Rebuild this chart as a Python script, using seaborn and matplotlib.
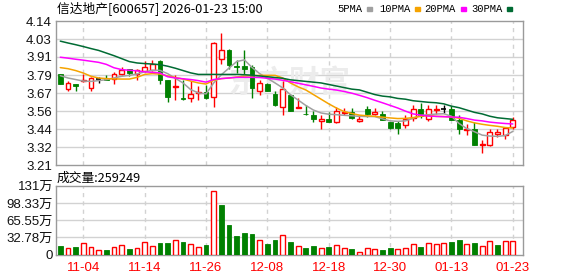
import numpy as np
import pandas as pd
import matplotlib
matplotlib.use("Agg")
import matplotlib.pyplot as plt
import seaborn as sns

# ---------------- data ----------------
dates = ["11-04", "11-14", "11-26", "12-08", "12-18", "12-30", "01-13", "01-23"]
date_idx = [3, 11, 19, 27, 35, 43, 51, 59]

opens = [3.798, 3.703, 3.733, 3.752, 3.705, 3.765, 3.772, 3.763, 3.796, 3.828,
         3.798, 3.815, 3.821, 3.884, 3.759, 3.712, 3.643, 3.645, 3.673, 3.681,
         3.647, 3.892, 3.953, 3.852, 3.849, 3.843, 3.686, 3.735, 3.669, 3.582,
         3.662, 3.578, 3.542, 3.533, 3.492, 3.509, 3.488, 3.548, 3.550, 3.492,
         3.570, 3.537, 3.537, 3.488, 3.479, 3.468, 3.511, 3.572, 3.509, 3.565,
         3.574, 3.574, 3.501, 3.434, 3.445, 3.339, 3.341, 3.410, 3.402, 3.453]
closes = [3.735, 3.737, 3.722, 3.759, 3.770, 3.765, 3.761, 3.798, 3.824, 3.802,
          3.826, 3.841, 3.864, 3.759, 3.649, 3.720, 3.636, 3.666, 3.679, 3.641,
          3.996, 3.951, 3.854, 3.845, 3.832, 3.707, 3.737, 3.690, 3.600, 3.699,
          3.561, 3.582, 3.537, 3.509, 3.505, 3.490, 3.557, 3.552, 3.511, 3.505,
          3.542, 3.550, 3.503, 3.447, 3.449, 3.507, 3.570, 3.529, 3.572, 3.572,
          3.574, 3.503, 3.445, 3.443, 3.341, 3.346, 3.425, 3.421, 3.449, 3.499]
highs = [3.800, 3.755, 3.735, 3.798, 3.781, 3.781, 3.789, 3.813, 3.841, 3.828,
         3.832, 3.880, 3.886, 3.890, 3.761, 3.793, 3.757, 3.755, 3.718, 3.729,
         4.006, 4.062, 3.959, 3.888, 3.952, 3.858, 3.759, 3.737, 3.686, 3.755,
         3.669, 3.643, 3.595, 3.561, 3.531, 3.550, 3.582, 3.580, 3.578, 3.531,
         3.589, 3.576, 3.557, 3.490, 3.492, 3.535, 3.595, 3.608, 3.600, 3.600,
         3.595, 3.589, 3.535, 3.475, 3.488, 3.374, 3.443, 3.443, 3.451, 3.520]
lows = [3.733, 3.686, 3.686, 3.748, 3.686, 3.737, 3.757, 3.735, 3.789, 3.785,
        3.759, 3.811, 3.815, 3.735, 3.617, 3.632, 3.632, 3.617, 3.632, 3.634,
        3.582, 3.862, 3.832, 3.802, 3.797, 3.643, 3.660, 3.688, 3.593, 3.535,
        3.559, 3.577, 3.536, 3.488, 3.445, 3.488, 3.481, 3.535, 3.509, 3.490,
        3.522, 3.533, 3.501, 3.445, 3.412, 3.447, 3.494, 3.514, 3.492, 3.542,
        3.544, 3.501, 3.410, 3.402, 3.340, 3.290, 3.335, 3.393, 3.376, 3.443]

# volume in 万
volumes = [16.5, 12.0, 14.6, 21.5, 14.0, 8.2, 8.9, 14.0, 17.7, 10.8,
           12.7, 23.4, 15.8, 22.0, 22.0, 27.0, 24.0, 20.0, 14.6, 18.4,
           120.3, 94.9, 56.3, 35.4, 41.8, 39.2, 27.2, 20.3, 27.8, 36.7,
           24.0, 16.4, 13.2, 17.0, 13.2, 15.0, 18.3, 12.6, 11.3, 5.7,
           12.6, 11.3, 9.5, 13.2, 11.3, 13.2, 20.8, 15.0, 22.7, 19.5,
           22.7, 23.3, 28.4, 20.8, 22.7, 16.4, 26.5, 18.9, 26.5, 25.9]
vol_up = [0, 1, 0, 1, 1, 1, 0, 1, 1, 0,
          1, 1, 1, 0, 0, 1, 0, 1, 1, 0,
          1, 0, 0, 0, 0, 0, 1, 0, 0, 1,
          0, 1, 0, 0, 1, 0, 1, 1, 0, 1,
          1, 1, 0, 0, 1, 1, 1, 0, 1, 1,
          1, 0, 0, 1, 0, 1, 1, 0, 1, 1]

ma5 = [3.787, 3.772, 3.762, 3.752, 3.750, 3.755, 3.761, 3.772, 3.783, 3.789,
       3.798, 3.812, 3.822, 3.821, 3.800, 3.770, 3.740, 3.697, 3.676, 3.669,
       3.740, 3.793, 3.836, 3.878, 3.889, 3.840, 3.800, 3.770, 3.740, 3.708,
       3.664, 3.630, 3.595, 3.565, 3.546, 3.538, 3.535, 3.531, 3.528, 3.524,
       3.523, 3.523, 3.508, 3.495, 3.492, 3.495, 3.512, 3.530, 3.535, 3.539,
       3.541, 3.525, 3.478, 3.445, 3.425, 3.403, 3.397, 3.395, 3.400, 3.427]
ma10 = [3.839, 3.832, 3.820, 3.804, 3.783, 3.772, 3.768, 3.766, 3.765, 3.765,
        3.776, 3.795, 3.800, 3.797, 3.785, 3.775, 3.765, 3.752, 3.740, 3.733,
        3.757, 3.768, 3.772, 3.778, 3.784, 3.786, 3.789, 3.789, 3.789, 3.772,
        3.740, 3.715, 3.695, 3.665, 3.635, 3.605, 3.578, 3.555, 3.543, 3.532,
        3.528, 3.524, 3.519, 3.514, 3.510, 3.511, 3.516, 3.524, 3.530, 3.524,
        3.523, 3.520, 3.512, 3.495, 3.482, 3.473, 3.466, 3.460, 3.452, 3.449]
ma20 = [3.906, 3.900, 3.893, 3.887, 3.880, 3.873, 3.860, 3.838, 3.826, 3.822,
        3.818, 3.812, 3.808, 3.805, 3.780, 3.772, 3.767, 3.762, 3.755, 3.745,
        3.762, 3.768, 3.772, 3.776, 3.776, 3.776, 3.775, 3.770, 3.765, 3.757,
        3.748, 3.738, 3.728, 3.718, 3.707, 3.700, 3.694, 3.685, 3.674, 3.660,
        3.645, 3.628, 3.612, 3.595, 3.578, 3.558, 3.540, 3.532, 3.526, 3.524,
        3.522, 3.520, 3.518, 3.510, 3.500, 3.495, 3.487, 3.482, 3.478, 3.475]
ma30 = [4.010, 3.998, 3.987, 3.975, 3.962, 3.950, 3.933, 3.916, 3.897, 3.878,
        3.869, 3.865, 3.862, 3.858, 3.848, 3.835, 3.820, 3.805, 3.795, 3.795,
        3.795, 3.795, 3.795, 3.795, 3.793, 3.790, 3.785, 3.780, 3.775, 3.770,
        3.760, 3.755, 3.750, 3.745, 3.740, 3.730, 3.720, 3.710, 3.700, 3.695,
        3.680, 3.665, 3.655, 3.650, 3.640, 3.635, 3.625, 3.620, 3.615, 3.612,
        3.605, 3.590, 3.580, 3.565, 3.550, 3.540, 3.525, 3.515, 3.510, 3.505]

price_ticks = [3.21, 3.32625, 3.4425, 3.55875, 3.675, 3.79125, 3.9075, 4.02375, 4.14]
price_labels = ["3.21", "3.32", "3.44", "3.56", "3.67", "3.79", "3.91", "4.03", "4.14"]
vol_ticks = [0, 32.775, 65.55, 98.325, 131.1]
vol_labels = ["0", "32.78万", "65.55万", "98.33万", "131万"]

title = "信达地产[600657] 2026-01-23 15:00"
vol_title = "成交量:259249"
ma_names = ["5PMA", "10PMA", "20PMA", "30PMA"]

# ---------------- style ----------------
sns.set_style("white")
plt.rcParams["font.family"] = ["Liberation Sans", "Noto Sans CJK SC", "DejaVu Sans"]

RED = "#ff0000"
GREEN = "#008000"
MA_COLORS = ["#a0a0a0", "#f5a300", "#ff00ff", "#006b33"]
GRID = "#d2d2d2"
SPINE = "#9a9a9a"

W, H = 578, 276
fig = plt.figure(figsize=(W / 100, H / 100), dpi=100)

left, right = 56, 523
axp = fig.add_axes([left / W, 1 - 165 / H, (right - left) / W, 144 / H])
axv = fig.add_axes([left / W, 1 - 254.7 / H, (right - left) / W, 69 / H])

n = len(closes)
idx = np.arange(n)
xlim = (-0.56, 60.33)
bw = 0.64

df = pd.DataFrame({"i": idx, "o": opens, "c": closes, "h": highs, "l": lows,
                   "v": volumes, "up": vol_up,
                   "ma5": ma5, "ma10": ma10, "ma20": ma20, "ma30": ma30})

# ---- price panel ----
axp.set_xlim(*xlim)
axp.set_ylim(3.21, 4.14)
for t in price_ticks[1:-1]:
    axp.axhline(t, color=GRID, lw=1, zorder=0)
for d in date_idx:
    axp.axvline(d, color=GRID, lw=1, ls=(0, (3, 3)), zorder=0)

axp.text(0.5, 0.57, "东方财富", transform=axp.transAxes, ha="center", va="center",
         fontsize=22, color="#ececec", fontweight="bold",
         family=["Noto Sans CJK SC"], zorder=0.5)

for i, o, c, h, l in zip(idx, opens, closes, highs, lows):
    if c > o:
        col = RED
    elif c < o:
        col = GREEN
    else:
        col = "#000000"
    axp.vlines(i, l, h, color=col, lw=1, zorder=2)
    if c == o:
        axp.hlines(c, i - bw / 2, i + bw / 2, color=col, lw=1.2, zorder=3)
    elif c > o:
        axp.bar(i, max(c - o, 0.004), bottom=o, width=bw, facecolor="white",
                edgecolor=col, lw=1, zorder=3)
    else:
        axp.bar(i, max(o - c, 0.004), bottom=c, width=bw, facecolor=col,
                edgecolor=col, lw=0.6, zorder=3)

for name, colr in zip(["ma5", "ma10", "ma20", "ma30"], MA_COLORS):
    sns.lineplot(data=df, x="i", y=name, ax=axp, color=colr, lw=1.1, zorder=4)

axp.set_yticks(price_ticks)
axp.set_yticklabels(price_labels)
axp.set_xticks([])
axp.set_xlabel("")
axp.set_ylabel("")
axp.tick_params(axis="y", length=0, pad=3, labelsize=9.5, labelcolor="#111111")
for s in axp.spines.values():
    s.set_color(SPINE)
    s.set_linewidth(1)

# ---- volume panel ----
axv.set_xlim(*xlim)
axv.set_ylim(0, 131.1)
for t in vol_ticks[1:-1]:
    axv.axhline(t, color=GRID, lw=1, zorder=0)
for d in date_idx:
    axv.axvline(d, color=GRID, lw=1, ls=(0, (3, 3)), zorder=0)
for i, v, u in zip(idx, volumes, vol_up):
    if u:
        axv.bar(i, v, width=bw, facecolor="white", edgecolor=RED, lw=1, zorder=3)
    else:
        axv.bar(i, v, width=bw, facecolor=GREEN, edgecolor=GREEN, lw=0.6, zorder=3)

axv.set_yticks(vol_ticks)
axv.set_yticklabels(vol_labels)
axv.set_xticks(date_idx)
axv.set_xticklabels(dates)
axv.tick_params(axis="y", length=0, pad=2, labelsize=9.5, labelcolor="#111111")
axv.tick_params(axis="x", length=0, pad=5, labelsize=9.5, labelcolor=RED)
for s in axv.spines.values():
    s.set_color(SPINE)
    s.set_linewidth(1)

# ---- texts ----
fig.text(57 / W, 1 - 8.5 / H, title, ha="left", va="center", fontsize=9.2,
         family=["Noto Sans CJK SC", "DejaVu Sans"], color="#000000")
fig.text(57 / W, 1 - 178 / H, vol_title, ha="left", va="center", fontsize=9.2,
         family=["Noto Sans CJK SC", "DejaVu Sans"], color="#000000")

leg_x = [337, 379, 424, 471]
sq_x = [367, 415, 461, 507]
for name, colr, tx, sx in zip(ma_names, MA_COLORS, leg_x, sq_x):
    fig.text(tx / W, 1 - 9 / H, name, ha="left", va="center", fontsize=7.6,
             family=["Liberation Mono"], color="#000000")
    fig.patches.append(plt.Rectangle((sx / W, 1 - 10.5 / H), 5 / W, 3 / H,
                                     transform=fig.transFigure, color=colr))

fig.savefig("out.png", dpi=100)
